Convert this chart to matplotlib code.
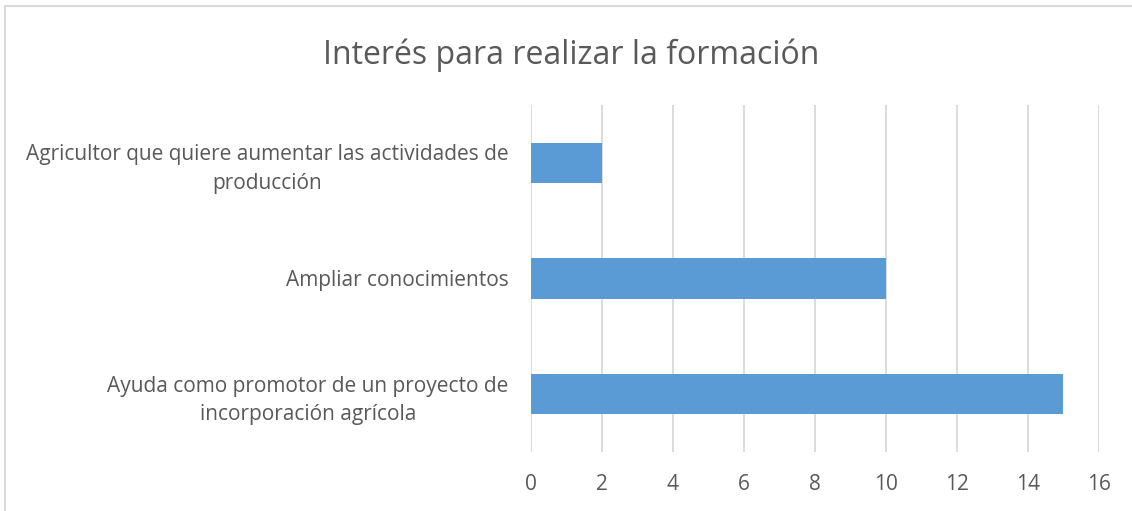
import matplotlib.pyplot as plt
from matplotlib.patches import Rectangle

# -------- Datos -------- #
categorias = [
    'Ayuda como promotor de un proyecto de\nincorporación agrícola',
    'Ampliar conocimientos',
    'Agricultor que quiere aumentar las actividades de\nproducción',
]
valores = [15, 10, 2]
ticks_x = [0, 2, 4, 6, 8, 10, 12, 14, 16]

plt.rcParams['font.family'] = ['Open Sans', 'DejaVu Sans']
gris_texto = '#595959'
gris_linea = '#d9d9d9'

# -------- Crear la gráfica -------- #
fig = plt.figure(figsize=(11.32, 5.11), dpi=100)
ax = fig.add_axes([0.469, 0.1155, 0.9706 - 0.469, 0.7945 - 0.1155])

pos = list(range(len(categorias)))
ax.barh(pos, valores, height=0.35, color='#5b9bd5', zorder=3)

ax.set_xlim(0, 16)
ax.set_ylim(-0.5, len(categorias) - 0.5)
ax.set_xticks(ticks_x)
ax.set_yticks(pos)
ax.set_yticklabels(categorias, multialignment='center', linespacing=1.45)

ax.grid(axis='x', color=gris_linea, linewidth=1.3, zorder=0)
for s in ax.spines.values():
    s.set_visible(False)
ax.tick_params(axis='both', length=0, colors=gris_texto, labelsize=15)
ax.tick_params(axis='x', pad=16)
ax.tick_params(axis='y', pad=16)

# --- Titulo --- #
fig.text(0.505, 0.891, 'Interés para realizar la formación', ha='center', va='center',
         fontsize=23, color=gris_texto)

# --- Borde del área del gráfico --- #
fig.patches.append(Rectangle((5 / 1132, -0.1), 1.2, 1 - 6 / 511 + 0.1,
                             transform=fig.transFigure, fill=False,
                             edgecolor=gris_linea, linewidth=1.5))

fig.savefig('out.png', dpi=100)
